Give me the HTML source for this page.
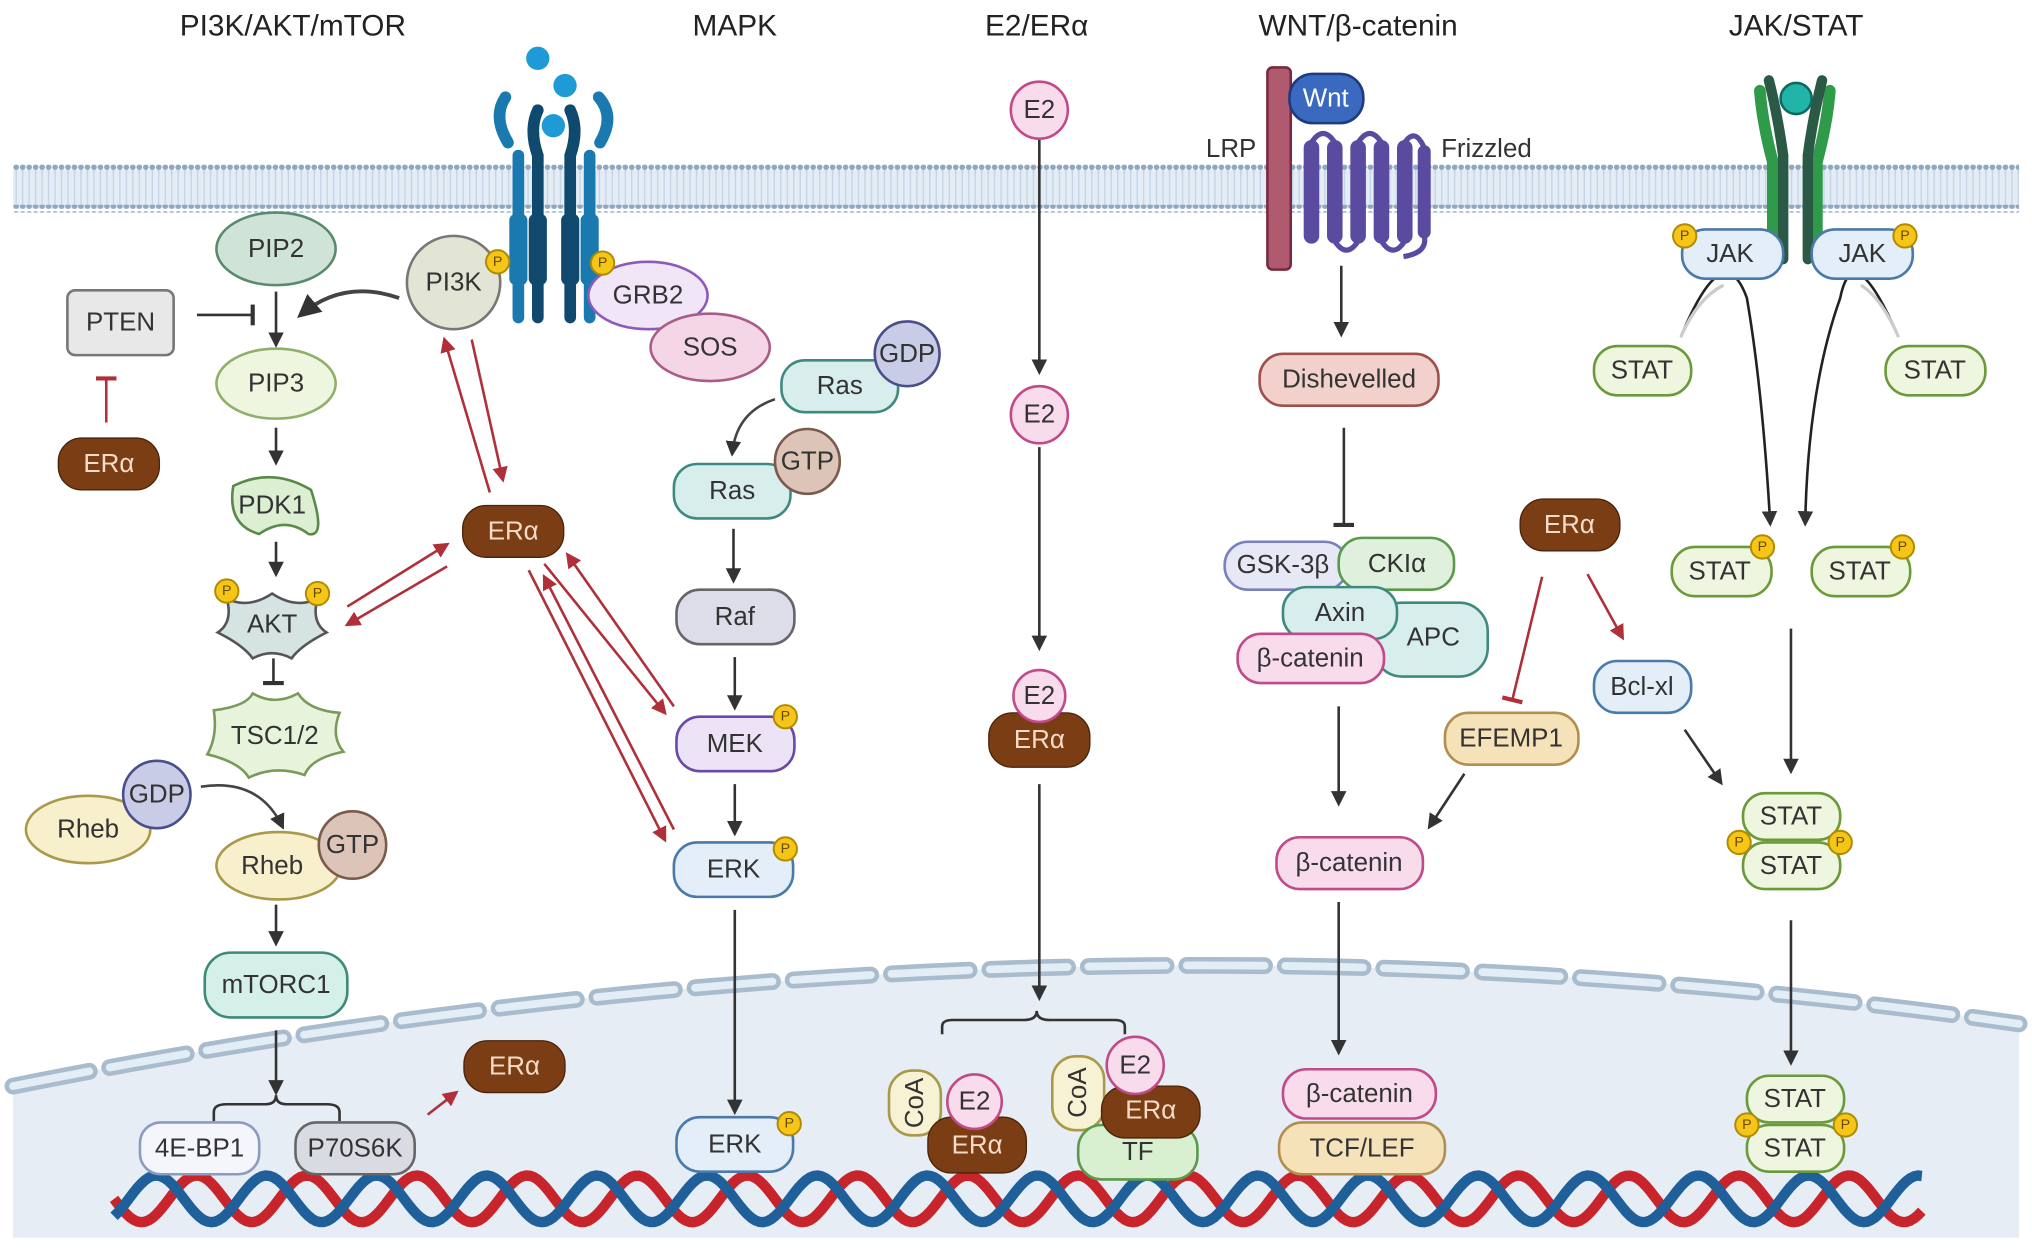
<!DOCTYPE html>
<html><head><meta charset="utf-8"><style>
html,body{margin:0;padding:0;background:#fff}
svg{display:block}
text{font-family:"Liberation Sans",sans-serif;font-size:20px;fill:#333;text-anchor:middle;dominant-baseline:central}
.t{font-size:23px;fill:#222}
.w{fill:#f6dcc8}
.p{font-size:11px;fill:#6a4a00}
</style></head><body>
<svg id="s" width="2032" height="1252" viewBox="0 0 1568 966" preserveAspectRatio="none" xmlns="http://www.w3.org/2000/svg">
<defs>
<marker id="a" viewBox="0 0 10 10" refX="8" refY="5" markerWidth="6" markerHeight="6" orient="auto"><path d="M0,0L10,5L0,10z" fill="#333"/></marker>
<marker id="r" viewBox="0 0 10 10" refX="8" refY="5" markerWidth="6" markerHeight="6" orient="auto"><path d="M0,0L10,5L0,10z" fill="#b0303a"/></marker>
<marker id="b" viewBox="0 0 10 10" refX="5" refY="5" markerWidth="8" markerHeight="8" orient="auto"><path d="M5,0L5,10" stroke="#333" stroke-width="2"/></marker>
<marker id="rb" viewBox="0 0 10 10" refX="5" refY="5" markerWidth="8" markerHeight="8" orient="auto"><path d="M5,0L5,10" stroke="#b0303a" stroke-width="2"/></marker>
<pattern id="dots" width="5" height="6" patternUnits="userSpaceOnUse"><circle cx="2.5" cy="3" r="2.2" fill="#8fa7bf"/></pattern>
<pattern id="tails" width="5" height="30" patternUnits="userSpaceOnUse"><rect width="5" height="30" fill="#e4edf6"/><path d="M2.5,0V30" stroke="#c4d4e4" stroke-width="1"/></pattern>
</defs>
<rect width="1568" height="966" fill="#fff"/>
<!-- nucleus -->
<path d="M10,838 Q800,680 1558,790 L1558,955 L10,955Z" fill="#e6edf5"/>
<path d="M10,838 Q800,680 1558,790" fill="none" stroke="#a9bccd" stroke-width="13" stroke-dasharray="60,16" stroke-linecap="round"/>
<path d="M10,838 Q800,680 1558,790" fill="none" stroke="#e3edf6" stroke-width="6" stroke-dasharray="60,16" stroke-linecap="round"/>
<!-- membrane -->
<rect x="10" y="131" width="1548" height="30" fill="url(#tails)"/>
<rect x="10" y="127" width="1548" height="6" fill="url(#dots)"/>
<rect x="10" y="158" width="1548" height="6" fill="url(#dots)"/>
<path id="dna1" fill="none" stroke="#c8242c" stroke-width="8"/>
<path id="dna2" fill="none" stroke="#1f5f9a" stroke-width="8"/>
<!-- titles -->
<text class="t" x="226" y="20">PI3K/AKT/mTOR</text>
<text class="t" x="567" y="20">MAPK</text>
<text class="t" x="800" y="20">E2/ERα</text>
<text class="t" x="1048" y="20">WNT/β-catenin</text>
<text class="t" x="1386" y="20">JAK/STAT</text>

<!-- RTK receptor -->
<g fill="none" stroke-linecap="round">
<path d="M400,245 V120 M392,110 Q380,90 390,75 M455,245 V120 M463,110 Q475,90 462,75" stroke="#1a7ab0" stroke-width="9"/>
<path d="M415,245 V120 Q408,100 415,85 M440,245 V120 Q447,100 440,85" stroke="#0f4a6e" stroke-width="9"/>
</g>
<rect x="393" y="165" width="14" height="55" rx="5" fill="#1a7ab0"/><rect x="448" y="165" width="14" height="55" rx="5" fill="#1a7ab0"/>
<rect x="408" y="165" width="14" height="55" rx="5" fill="#0f4a6e"/><rect x="433" y="165" width="14" height="55" rx="5" fill="#0f4a6e"/>
<circle cx="415" cy="45" r="9" fill="#1e9bd7"/><circle cx="436" cy="66" r="9" fill="#1e9bd7"/><circle cx="427" cy="97" r="9" fill="#1e9bd7"/>

<!-- PI3K column -->
<ellipse cx="213" cy="192" rx="46" ry="28" fill="#cfe3d6" stroke="#5a8a6e" stroke-width="2"/><text x="213" y="192">PIP2</text>
<rect x="52" y="224" width="82" height="50" rx="6" fill="#e8e8e8" stroke="#777" stroke-width="2"/><text x="93" y="249">PTEN</text>
<line x1="152" y1="243" x2="195" y2="243" stroke="#333" stroke-width="2" marker-end="url(#b)"/>
<line x1="213" y1="225" x2="213" y2="266" stroke="#333" stroke-width="2" marker-end="url(#a)"/>
<path d="M308,230 Q265,215 232,243" fill="none" stroke="#444" stroke-width="3" marker-end="url(#a)"/>
<ellipse cx="213" cy="296" rx="46" ry="27" fill="#eef6df" stroke="#8fb06a" stroke-width="2"/><text x="213" y="296">PIP3</text>
<rect x="45" y="338" width="78" height="40" rx="18" fill="#7a3d14" stroke="#4a2308"/><text class="w" x="84" y="358">ERα</text>
<line x1="82" y1="326" x2="82" y2="292" stroke="#b0303a" stroke-width="2" marker-end="url(#rb)"/>
<line x1="213" y1="330" x2="213" y2="357" stroke="#333" stroke-width="2" marker-end="url(#a)"/>
<path d="M180,375 Q210,360 240,378 Q252,415 238,412 Q220,398 200,412 Q175,405 180,375Z" fill="#dcefd3" stroke="#5a8a4a" stroke-width="2"/><text x="210" y="390">PDK1</text>
<line x1="213" y1="418" x2="213" y2="443" stroke="#333" stroke-width="2" marker-end="url(#a)"/>
<path d="M175,462 Q192,470 210,458 Q228,470 245,462 Q240,480 252,488 Q232,498 225,508 Q210,500 195,508 Q188,498 168,488 Q180,480 175,462Z" fill="#d6e3e3" stroke="#555" stroke-width="2"/><text x="210" y="482">AKT</text>
<line x1="211" y1="508" x2="211" y2="527" stroke="#333" stroke-width="2" marker-end="url(#b)"/>
<path d="M165,548 Q190,545 195,535 Q212,545 230,535 Q238,548 262,550 Q255,568 265,580 Q240,585 235,598 Q212,590 192,600 Q185,588 160,582 Q168,568 165,548Z" fill="#e8f3dc" stroke="#7a9a5a" stroke-width="2"/><text x="212" y="568">TSC1/2</text>
<ellipse cx="68" cy="640" rx="48" ry="26" fill="#f8f0cc" stroke="#a89a4a" stroke-width="2"/><text x="68" y="640">Rheb</text>
<circle cx="121" cy="613" r="26" fill="#c9cce6" stroke="#4a4e8a" stroke-width="2"/><text x="121" y="613">GDP</text>
<path d="M155,607 Q200,600 218,638" fill="none" stroke="#444" stroke-width="2" marker-end="url(#a)"/>
<ellipse cx="215" cy="668" rx="48" ry="26" fill="#f8f0cc" stroke="#a89a4a" stroke-width="2"/><text x="210" y="668">Rheb</text>
<circle cx="272" cy="652" r="26" fill="#ddc4b8" stroke="#7a5a4a" stroke-width="2"/><text x="272" y="652">GTP</text>
<line x1="213" y1="698" x2="213" y2="728" stroke="#333" stroke-width="2" marker-end="url(#a)"/>
<rect x="158" y="735" width="110" height="50" rx="20" fill="#d5efe9" stroke="#3e8a78" stroke-width="2"/><text x="213" y="760">mTORC1</text>
<line x1="213" y1="795" x2="213" y2="843" stroke="#333" stroke-width="2" marker-end="url(#a)"/>
<path d="M165,865 V858 Q165,852 175,852 H205 Q213,852 213,845 Q213,852 221,852 H252 Q262,852 262,858 V865" fill="none" stroke="#333" stroke-width="2"/>
<rect x="108" y="866" width="92" height="40" rx="16" fill="#f4f6fb" stroke="#8b9cc0" stroke-width="2"/><text x="154" y="886">4E-BP1</text>
<rect x="228" y="866" width="92" height="40" rx="16" fill="#d9dbe3" stroke="#666" stroke-width="2"/><text x="274" y="886">P70S6K</text>
<line x1="330" y1="860" x2="352" y2="843" stroke="#b0303a" stroke-width="2" marker-end="url(#r)"/>
<rect x="358" y="803" width="78" height="40" rx="18" fill="#7a3d14" stroke="#4a2308"/><text class="w" x="397" y="823">ERα</text>

<!-- PI3K etc -->
<circle cx="350" cy="218" r="36" fill="#e2e5d4" stroke="#777" stroke-width="2"/><text x="350" y="218">PI3K</text>
<ellipse cx="500" cy="228" rx="46" ry="26" fill="#f1e6f8" stroke="#8e5ab8" stroke-width="2"/><text x="500" y="228">GRB2</text>
<ellipse cx="548" cy="268" rx="46" ry="26" fill="#f5d6e6" stroke="#aa5c88" stroke-width="2"/><text x="548" y="268">SOS</text>
<rect x="357" y="390" width="78" height="40" rx="18" fill="#7a3d14" stroke="#4a2308"/><text class="w" x="396" y="410">ERα</text>
<g stroke="#b0303a" stroke-width="2">
<line x1="378" y1="380" x2="343" y2="262" marker-end="url(#r)"/>
<line x1="364" y1="262" x2="388" y2="370" marker-end="url(#r)"/>
<line x1="268" y1="468" x2="345" y2="420" marker-end="url(#r)"/>
<line x1="345" y1="437" x2="268" y2="482" marker-end="url(#r)"/>
<line x1="420" y1="435" x2="513" y2="550" marker-end="url(#r)"/>
<line x1="520" y1="545" x2="438" y2="428" marker-end="url(#r)"/>
<line x1="408" y1="440" x2="513" y2="648" marker-end="url(#r)"/>
<line x1="520" y1="640" x2="420" y2="445" marker-end="url(#r)"/>
</g>
<!-- MAPK -->
<rect x="603" y="278" width="90" height="40" rx="18" fill="#d8eeec" stroke="#3e8a80" stroke-width="2"/><text x="648" y="298">Ras</text>
<circle cx="700" cy="273" r="25" fill="#c9cce6" stroke="#4a4e8a" stroke-width="2"/><text x="700" y="273">GDP</text>
<path d="M598,308 Q568,318 565,350" fill="none" stroke="#444" stroke-width="2" marker-end="url(#a)"/>
<rect x="520" y="358" width="90" height="42" rx="18" fill="#d8eeec" stroke="#3e8a80" stroke-width="2"/><text x="565" y="379">Ras</text>
<circle cx="623" cy="356" r="25" fill="#ddc4b8" stroke="#7a5a4a" stroke-width="2"/><text x="623" y="356">GTP</text>
<line x1="566" y1="408" x2="566" y2="448" stroke="#333" stroke-width="2" marker-end="url(#a)"/>
<rect x="522" y="455" width="91" height="42" rx="18" fill="#dcdde8" stroke="#666" stroke-width="2"/><text x="567" y="476">Raf</text>
<line x1="567" y1="507" x2="567" y2="546" stroke="#333" stroke-width="2" marker-end="url(#a)"/>
<rect x="522" y="553" width="91" height="42" rx="18" fill="#ece4f6" stroke="#6a4aa8" stroke-width="2"/><text x="567" y="574">MEK</text>
<line x1="567" y1="605" x2="567" y2="643" stroke="#333" stroke-width="2" marker-end="url(#a)"/>
<rect x="520" y="650" width="92" height="42" rx="18" fill="#e3eef8" stroke="#4a7aaa" stroke-width="2"/><text x="566" y="671">ERK</text>
<line x1="567" y1="702" x2="567" y2="858" stroke="#333" stroke-width="2" marker-end="url(#a)"/>
<rect x="522" y="862" width="90" height="42" rx="18" fill="#e3eef8" stroke="#4a7aaa" stroke-width="2"/><text x="567" y="883">ERK</text>

<!-- E2 -->
<circle cx="802" cy="85" r="22" fill="#f9dcec" stroke="#c04a8a" stroke-width="2"/><text x="802" y="85">E2</text>
<line x1="802" y1="108" x2="802" y2="287" stroke="#333" stroke-width="2" marker-end="url(#a)"/>
<circle cx="802" cy="320" r="22" fill="#f9dcec" stroke="#c04a8a" stroke-width="2"/><text x="802" y="320">E2</text>
<line x1="802" y1="345" x2="802" y2="500" stroke="#333" stroke-width="2" marker-end="url(#a)"/>
<rect x="763" y="550" width="78" height="42" rx="18" fill="#7a3d14" stroke="#4a2308"/><text class="w" x="802" y="571">ERα</text>
<circle cx="802" cy="537" r="20" fill="#f9dcec" stroke="#c04a8a" stroke-width="2"/><text x="802" y="537">E2</text>
<line x1="802" y1="605" x2="802" y2="770" stroke="#333" stroke-width="2" marker-end="url(#a)"/>
<path d="M727,798 V792 Q727,787 735,787 H790 Q800,787 800,780 Q800,787 810,787 H860 Q868,787 868,792 V798" fill="none" stroke="#333" stroke-width="2"/>
<rect x="686" y="826" width="40" height="50" rx="18" fill="#f8f2d4" stroke="#a89a4a" stroke-width="2"/><text x="706" y="851" transform="rotate(-90 706 851)">CoA</text>
<rect x="716" y="862" width="76" height="43" rx="18" fill="#7a3d14" stroke="#4a2308"/><text class="w" x="754" y="884">ERα</text>
<circle cx="752" cy="850" r="21" fill="#f9dcec" stroke="#c04a8a" stroke-width="2"/><text x="752" y="850">E2</text>
<rect x="812" y="815" width="40" height="57" rx="18" fill="#f8f2d4" stroke="#a89a4a" stroke-width="2"/><text x="832" y="843" transform="rotate(-90 832 843)">CoA</text>
<rect x="832" y="868" width="92" height="42" rx="18" fill="#d8f0d0" stroke="#5a9a4a" stroke-width="2"/><text x="878" y="889">TF</text>
<rect x="850" y="838" width="76" height="40" rx="18" fill="#7a3d14" stroke="#4a2308"/><text class="w" x="888" y="857">ERα</text>
<circle cx="876" cy="822" r="22" fill="#f9dcec" stroke="#c04a8a" stroke-width="2"/><text x="876" y="822">E2</text>

<!-- WNT -->
<rect x="978" y="52" width="18" height="156" rx="4" fill="#b05a70" stroke="#7a2a40" stroke-width="2"/>
<text x="950" y="115">LRP</text>
<text x="1147" y="115">Frizzled</text>
<g fill="#5a4aa0">
<rect x="1006" y="108" width="12" height="80" rx="6"/><rect x="1024" y="108" width="12" height="80" rx="6"/><rect x="1042" y="108" width="12" height="80" rx="6"/><rect x="1060" y="108" width="12" height="80" rx="6"/><rect x="1078" y="108" width="12" height="80" rx="6"/><rect x="1094" y="112" width="10" height="72" rx="5"/>
</g>
<path d="M1012,110 Q1021,96 1030,110 M1048,110 Q1057,96 1066,110 M1084,110 Q1092,98 1099,114 M1030,186 Q1039,200 1048,186 M1066,186 Q1075,200 1084,186 M1099,182 Q1102,195 1083,198" fill="none" stroke="#5a4aa0" stroke-width="4"/>
<rect x="995" y="57" width="57" height="38" rx="18" fill="#3a6ac0" stroke="#1e3a80" stroke-width="2"/><text x="1023" y="76" style="fill:#fff">Wnt</text>
<line x1="1035" y1="205" x2="1035" y2="258" stroke="#333" stroke-width="2" marker-end="url(#a)"/>
<rect x="972" y="273" width="138" height="40" rx="18" fill="#f2d0cc" stroke="#a0504a" stroke-width="2"/><text x="1041" y="293">Dishevelled</text>
<line x1="1037" y1="330" x2="1037" y2="405" stroke="#333" stroke-width="2" marker-end="url(#b)"/>
<rect x="1060" y="465" width="88" height="57" rx="22" fill="#d8eeec" stroke="#3e8a80" stroke-width="2"/><text x="1106" y="492">APC</text>
<rect x="945" y="418" width="95" height="37" rx="18" fill="#e6e8f6" stroke="#7a80c0" stroke-width="2"/><text x="990" y="436">GSK-3β</text>
<rect x="1033" y="415" width="89" height="40" rx="18" fill="#dff0dc" stroke="#5a9a4a" stroke-width="2"/><text x="1078" y="435">CKIα</text>
<rect x="990" y="453" width="88" height="40" rx="18" fill="#d8eeec" stroke="#3e8a80" stroke-width="2"/><text x="1034" y="473">Axin</text>
<rect x="955" y="489" width="113" height="38" rx="18" fill="#f9dcec" stroke="#c04a8a" stroke-width="2"/><text x="1011" y="508">β-catenin</text>
<line x1="1033" y1="545" x2="1033" y2="620" stroke="#333" stroke-width="2" marker-end="url(#a)"/>
<rect x="985" y="646" width="113" height="40" rx="18" fill="#f9dcec" stroke="#c04a8a" stroke-width="2"/><text x="1041" y="666">β-catenin</text>
<line x1="1033" y1="696" x2="1033" y2="812" stroke="#333" stroke-width="2" marker-end="url(#a)"/>
<rect x="987" y="866" width="128" height="40" rx="18" fill="#f6e2b8" stroke="#b09050" stroke-width="2"/><text x="1051" y="886">TCF/LEF</text>
<rect x="990" y="825" width="118" height="38" rx="18" fill="#f9dcec" stroke="#c04a8a" stroke-width="2"/><text x="1049" y="844">β-catenin</text>
<rect x="1173" y="385" width="77" height="40" rx="18" fill="#7a3d14" stroke="#4a2308"/><text class="w" x="1211" y="405">ERα</text>
<line x1="1190" y1="445" x2="1167" y2="540" stroke="#b0303a" stroke-width="2" marker-end="url(#rb)"/>
<line x1="1225" y1="443" x2="1252" y2="492" stroke="#b0303a" stroke-width="2" marker-end="url(#r)"/>
<rect x="1115" y="550" width="103" height="40" rx="18" fill="#f6e2b8" stroke="#b09050" stroke-width="2"/><text x="1166" y="570">EFEMP1</text>
<line x1="1130" y1="597" x2="1103" y2="638" stroke="#333" stroke-width="2" marker-end="url(#a)"/>
<rect x="1230" y="510" width="75" height="40" rx="18" fill="#e3eef8" stroke="#4a7aaa" stroke-width="2"/><text x="1267" y="530">Bcl-xl</text>
<line x1="1300" y1="563" x2="1328" y2="604" stroke="#333" stroke-width="2" marker-end="url(#a)"/>

<!-- JAK/STAT -->
<path d="M1368,200 V125 Q1360,95 1358,70 M1402,200 V125 Q1410,95 1412,70" fill="none" stroke="#2e9a4a" stroke-width="9" stroke-linecap="round"/>
<path d="M1376,200 V120 Q1372,90 1365,62 M1395,200 V120 Q1399,90 1406,62" fill="none" stroke="#2a5a45" stroke-width="8" stroke-linecap="round"/>
<circle cx="1386" cy="76" r="12" fill="#22b4a8" stroke="#0e6a60" stroke-width="2"/>
<path d="M1297,260 Q1330,180 1348,230 Q1360,300 1366,404" fill="none" stroke="#222" stroke-width="2" marker-end="url(#a)"/>
<path d="M1465,260 Q1430,180 1420,230 Q1395,300 1393,404" fill="none" stroke="#222" stroke-width="2" marker-end="url(#a)"/>
<path d="M1297,260 Q1310,230 1330,220" fill="none" stroke="#ccc" stroke-width="2.5"/>
<path d="M1465,260 Q1452,230 1436,220" fill="none" stroke="#ccc" stroke-width="2.5"/>
<rect x="1298" y="177" width="78" height="38" rx="18" fill="#e3eef8" stroke="#4a7aaa" stroke-width="2"/><text x="1335" y="196">JAK</text>
<rect x="1398" y="177" width="78" height="38" rx="18" fill="#e3eef8" stroke="#4a7aaa" stroke-width="2"/><text x="1437" y="196">JAK</text>
<rect x="1230" y="267" width="75" height="38" rx="18" fill="#eef6df" stroke="#6a9a3a" stroke-width="2"/><text x="1267" y="286">STAT</text>
<rect x="1455" y="267" width="77" height="38" rx="18" fill="#eef6df" stroke="#6a9a3a" stroke-width="2"/><text x="1493" y="286">STAT</text>
<rect x="1290" y="422" width="77" height="38" rx="18" fill="#eef6df" stroke="#6a9a3a" stroke-width="2"/><text x="1327" y="441">STAT</text>
<rect x="1398" y="422" width="76" height="38" rx="18" fill="#eef6df" stroke="#6a9a3a" stroke-width="2"/><text x="1435" y="441">STAT</text>
<line x1="1382" y1="485" x2="1382" y2="595" stroke="#333" stroke-width="2" marker-end="url(#a)"/>
<rect x="1345" y="612" width="75" height="36" rx="17" fill="#eef6df" stroke="#6a9a3a" stroke-width="2"/><text x="1382" y="630">STAT</text>
<rect x="1345" y="650" width="75" height="36" rx="17" fill="#eef6df" stroke="#6a9a3a" stroke-width="2"/><text x="1382" y="668">STAT</text>
<line x1="1382" y1="710" x2="1382" y2="820" stroke="#333" stroke-width="2" marker-end="url(#a)"/>
<rect x="1348" y="830" width="75" height="36" rx="17" fill="#eef6df" stroke="#6a9a3a" stroke-width="2"/><text x="1385" y="848">STAT</text>
<rect x="1348" y="868" width="75" height="36" rx="17" fill="#eef6df" stroke="#6a9a3a" stroke-width="2"/><text x="1385" y="886">STAT</text>

<!-- phospho -->
<g id="ps"></g>
</svg>
<script>
var ps=[[384,202],[465,203],[175,456],[245,458],[606,553],[606,655],[609,867],[1300,182],[1470,182],[1360,422],[1468,422],[1342,650],[1420,650],[1348,868],[1424,868]];
var g=document.getElementById('ps'),h='';
ps.forEach(function(p){h+='<circle cx="'+p[0]+'" cy="'+p[1]+'" r="9" fill="#f5c518" stroke="#b08a00" stroke-width="1.5"/><text class="p" x="'+p[0]+'" y="'+p[1]+'">P</text>';});
g.innerHTML=h;
function dna(ph){var d='',x;for(x=88;x<=1485;x+=3){var y=925+18*Math.sin((x-88)/85*2*Math.PI+ph);d+=(x==88?'M':'L')+x+','+y.toFixed(1);}return d;}
document.getElementById('dna1').setAttribute('d',dna(0));
document.getElementById('dna2').setAttribute('d',dna(2.3));
</script>
</body></html>
